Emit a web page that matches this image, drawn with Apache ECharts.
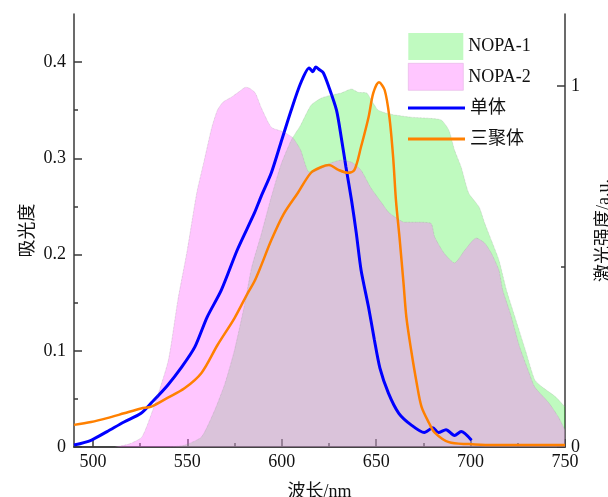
<!DOCTYPE html>
<html>
<head>
<meta charset="utf-8">
<script src="https://cdn.jsdelivr.net/npm/echarts@6/dist/echarts.min.js"></script>
<style>html,body{margin:0;padding:0;background:#fff}#c{width:608px;height:497px}</style>
</head>
<body>
<div id="c"></div>
<script>
// ---- data ----
const xTicks = [500, 550, 600, 650, 700, 750];
const xMinorTicks = [525, 575, 625, 675, 725];
const yLeftTicks = [0, 0.1, 0.2, 0.3, 0.4];
const yLeftMinorTicks = [0.05, 0.15, 0.25, 0.35];
const yRightTicks = [0, 1];
const yRightMinorTicks = [0.5];

const nopa1X = [541, 548.5, 557.5, 564.5, 570, 575, 580.5, 584, 589, 594, 599.5, 605, 610, 615.5, 621, 626, 631.5, 637, 640.5, 645, 647.5, 651, 655.5, 660, 668.5, 678, 684.5, 688.5, 691.5, 695, 699, 704.5, 707.5, 711, 715, 719, 723.5, 729, 734, 738, 745, 750];
const nopa1Y = [0, 0.005, 0.028, 0.102, 0.177, 0.269, 0.399, 0.496, 0.587, 0.684, 0.781, 0.850, 0.892, 0.947, 0.967, 0.975, 0.981, 0.992, 0.983, 0.981, 0.961, 0.934, 0.925, 0.920, 0.914, 0.911, 0.906, 0.878, 0.823, 0.776, 0.704, 0.665, 0.620, 0.573, 0.518, 0.435, 0.360, 0.269, 0.186, 0.166, 0.139, 0.111];

const nopa2X = [512, 519, 526, 533, 540, 545, 550, 555, 559, 563, 566, 569, 573.5, 577, 581, 583, 586, 589, 593, 595, 601, 606, 610, 614.5, 619, 626, 631.5, 637, 642, 647, 653, 656.5, 660, 665, 672, 679, 681, 686, 691.5, 697, 703, 707.5, 711, 715, 717, 721, 726, 731, 734, 741.5, 746.5, 750];
const nopa2Y = [0, 0.008, 0.028, 0.122, 0.241, 0.407, 0.546, 0.704, 0.795, 0.886, 0.934, 0.956, 0.970, 0.983, 0.997, 0.994, 0.981, 0.942, 0.898, 0.884, 0.873, 0.856, 0.823, 0.762, 0.767, 0.787, 0.795, 0.789, 0.767, 0.720, 0.676, 0.651, 0.637, 0.623, 0.623, 0.620, 0.582, 0.537, 0.510, 0.546, 0.579, 0.565, 0.537, 0.490, 0.435, 0.371, 0.277, 0.205, 0.166, 0.122, 0.083, 0.047];

const monoX = [490, 499, 507.5, 516.5, 525.5, 531.5, 539.5, 547, 554, 560.5, 568, 576.5, 585.5, 589, 594.5, 599.5, 605, 610, 614.5, 616.5, 618, 620, 622, 625, 629, 631.5, 634, 637, 639.5, 642, 646, 649, 652, 656.5, 662, 668.5, 675.5, 680, 683, 687, 691.5, 695, 700.5];
const monoY = [0.002, 0.007, 0.016, 0.026, 0.035, 0.047, 0.064, 0.083, 0.104, 0.135, 0.163, 0.205, 0.243, 0.260, 0.285, 0.316, 0.350, 0.378, 0.394, 0.390, 0.395, 0.392, 0.389, 0.374, 0.350, 0.322, 0.291, 0.256, 0.222, 0.184, 0.145, 0.112, 0.082, 0.056, 0.035, 0.023, 0.015, 0.020, 0.015, 0.018, 0.012, 0.016, 0.007];

const trimerX = [490, 499, 507.5, 516.5, 525.5, 531, 539.5, 548.5, 557.5, 566, 575, 582, 585.5, 589, 594.5, 601, 608.5, 615.5, 621, 625, 630, 635, 638.5, 642, 646, 648.5, 651.5, 654.5, 657, 659, 660.5, 662.5, 664.5, 666, 668.5, 671.5, 674, 678, 681, 688.5, 699, 710, 745, 750];
const trimerY = [0.023, 0.026, 0.030, 0.035, 0.040, 0.042, 0.051, 0.061, 0.077, 0.106, 0.134, 0.160, 0.172, 0.188, 0.215, 0.242, 0.264, 0.285, 0.291, 0.293, 0.288, 0.285, 0.288, 0.312, 0.343, 0.368, 0.379, 0.371, 0.343, 0.301, 0.256, 0.215, 0.170, 0.135, 0.101, 0.066, 0.042, 0.025, 0.015, 0.005, 0.003, 0.002, 0.002, 0.002];

const names = { nopa1: 'NOPA-1', nopa2: 'NOPA-2', mono: '单体', trimer: '三聚体' };

const zip = (xs, ys) => xs.map((x, i) => [x, ys[i]]);
const FONT = "'Liberation Serif','Times New Roman','Noto Sans CJK SC',serif";
const AX = '#3a3a3a';

const chart = echarts.init(document.getElementById('c'), null, { renderer: 'canvas' });
chart.setOption({
  animation: false,
  textStyle: { fontFamily: FONT },
  grid: { left: 74, right: 43, top: 14, bottom: 50, containLabel: false, outerBoundsMode: 'none' },
  legend: [
    {
      orient: 'vertical', left: 403, top: 28, itemWidth: 55, itemHeight: 27, itemGap: 3,
      selectedMode: false,
      textStyle: { fontFamily: FONT, fontSize: 18, color: '#111' },
      data: [
        { name: names.nopa1, icon: 'rect', itemStyle: { color: '#C0FAC0', borderWidth: 0 } },
        { name: names.nopa2, icon: 'rect', itemStyle: { color: '#FFC6FF', borderColor: '#e0b0e0', borderWidth: 0.6 } }
      ]
    },
    {
      orient: 'vertical', left: 403, top: 94, itemWidth: 57, itemHeight: 3, itemGap: 13,
      selectedMode: false,
      textStyle: { fontFamily: FONT, fontSize: 18, color: '#111' },
      data: [
        { name: names.mono, icon: 'rect', itemStyle: { color: '#0000FF' } },
        { name: names.trimer, icon: 'rect', itemStyle: { color: '#FF8000' } }
      ]
    }
  ],
  xAxis: [
    {
      type: 'value', min: 490, max: 750, position: 'bottom',
      name: '波长/nm', nameLocation: 'middle', nameGap: 36,
      nameTextStyle: { fontFamily: FONT, fontSize: 18, color: '#111' },
      axisLine: { show: true, lineStyle: { color: AX, width: 1.5 } },
      axisTick: { show: true, inside: true, length: 8, customValues: xTicks, lineStyle: { color: AX, width: 1.5 } },
      axisLabel: { customValues: xTicks, fontFamily: FONT, fontSize: 18, color: '#111', margin: 6 },
      splitLine: { show: false }
    },
    {
      type: 'value', min: 490, max: 750, position: 'bottom',
      axisLine: { show: false },
      axisTick: { show: true, inside: true, length: 4, customValues: xMinorTicks, lineStyle: { color: AX, width: 1.5 } },
      axisLabel: { show: false },
      splitLine: { show: false }
    },
    {
      type: 'value', min: 490, max: 750, position: 'top',
      axisLine: { show: true, lineStyle: { color: AX, width: 1.5 } },
      axisTick: { show: false }, axisLabel: { show: false }, splitLine: { show: false }
    }
  ],
  yAxis: [
    {
      type: 'value', min: 0, max: 0.45, position: 'left',
      name: '吸光度', nameLocation: 'middle', nameGap: 37, nameRotate: 90, nameMoveOverlap: false,
      nameTextStyle: { fontFamily: FONT, fontSize: 18, color: '#111' },
      axisLine: { show: true, lineStyle: { color: AX, width: 1.5 } },
      axisTick: { show: true, inside: true, length: 8, customValues: yLeftTicks, lineStyle: { color: AX, width: 1.5 } },
      axisLabel: { customValues: yLeftTicks, fontFamily: FONT, fontSize: 18, color: '#111', margin: 8,
        formatter: v => (v === 0 ? '0' : String(v)) },
      splitLine: { show: false }
    },
    {
      type: 'value', min: 0, max: 1.2, position: 'right',
      name: '激光强度/a.u.', nameLocation: 'middle', nameGap: 30, nameRotate: 90,
      nameTextStyle: { fontFamily: FONT, fontSize: 18, color: '#111' },
      axisLine: { show: true, lineStyle: { color: AX, width: 1.5 } },
      axisTick: { show: true, inside: true, length: 8, customValues: yRightTicks, lineStyle: { color: AX, width: 1.5 } },
      axisLabel: { customValues: yRightTicks, fontFamily: FONT, fontSize: 18, color: '#111', margin: 6 },
      splitLine: { show: false }
    },
    {
      type: 'value', min: 0, max: 0.45, position: 'left',
      axisLine: { show: false },
      axisTick: { show: true, inside: true, length: 4, customValues: yLeftMinorTicks, lineStyle: { color: AX, width: 1.5 } },
      axisLabel: { show: false }, splitLine: { show: false }
    },
    {
      type: 'value', min: 0, max: 1.2, position: 'right',
      axisLine: { show: false },
      axisTick: { show: true, inside: true, length: 4, customValues: yRightMinorTicks, lineStyle: { color: AX, width: 1.5 } },
      axisLabel: { show: false }, splitLine: { show: false }
    }
  ],
  series: [
    {
      name: names.mono, type: 'line', xAxisIndex: 0, yAxisIndex: 0,
      data: zip(monoX, monoY), showSymbol: false, smooth: 0.25,
      lineStyle: { color: '#0000FF', width: 3 }, itemStyle: { color: '#0000FF' }
    },
    {
      name: names.trimer, type: 'line', xAxisIndex: 0, yAxisIndex: 0,
      data: zip(trimerX, trimerY), showSymbol: false, smooth: 0.3,
      lineStyle: { color: '#FF8000', width: 2.5 }, itemStyle: { color: '#FF8000' }
    },
    {
      name: names.nopa1, type: 'line', xAxisIndex: 0, yAxisIndex: 1,
      data: zip(nopa1X, nopa1Y), showSymbol: false, smooth: 0.2,
      lineStyle: { color: 'rgba(140,140,140,0.5)', width: 0.7, type: 'dotted' },
      areaStyle: { color: 'rgba(0,235,0,0.25)', opacity: 1 },
      itemStyle: { color: '#C0FAC0' }
    },
    {
      name: names.nopa2, type: 'line', xAxisIndex: 0, yAxisIndex: 1,
      data: zip(nopa2X, nopa2Y), showSymbol: false, smooth: 0.2,
      lineStyle: { color: 'rgba(140,140,140,0.5)', width: 0.7, type: 'dotted' },
      areaStyle: { color: 'rgba(255,116,255,0.41)', opacity: 1 },
      itemStyle: { color: '#FFC6FF' }
    }
  ]
});
</script>
</body>
</html>
